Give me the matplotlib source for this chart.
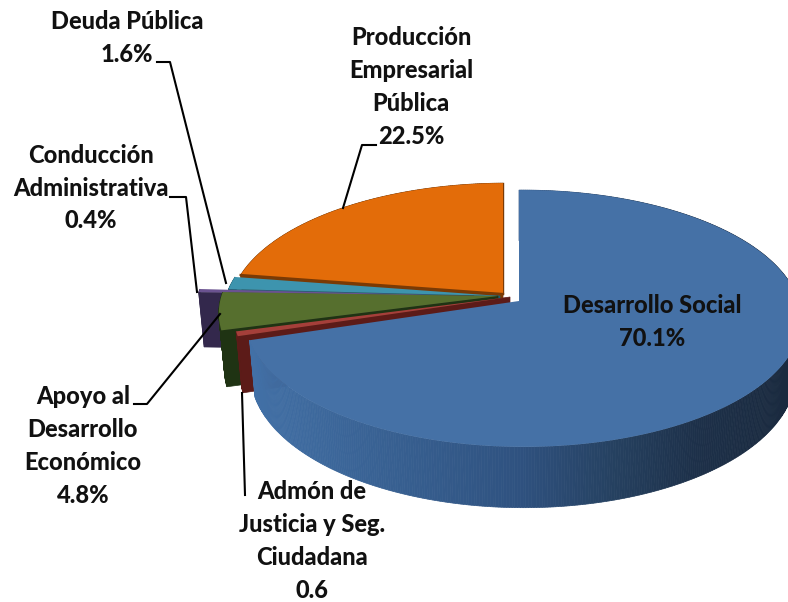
import matplotlib
matplotlib.use('Agg')
import matplotlib.pyplot as plt
from matplotlib.colors import to_rgb
from matplotlib.patches import Polygon
import numpy as np

# Slices clockwise from 12 o'clock
names = ['Desarrollo Social', 'Admón de\nJusticia y Seg.\nCiudadana', 'Apoyo al\nDesarrollo\nEconómico',
         'Conducción\nAdministrativa', 'Deuda Pública', 'Producción\nEmpresarial\nPública']
values = [70.1, 0.6, 4.8, 0.4, 1.6, 22.5]
value_labels = ['70.1%', '0.6', '4.8%', '0.4%', '1.6%', '22.5%']

top_colors = ['#4571a6', '#a53f3a', '#566f2e', '#6a5290', '#3d94ae', '#e36c09']
wall_colors = ['#35597f', '#5c1b18', '#1f3313', '#33284c', '#1f5f72', '#7a3a05']

# Apex of each exploded slice and its width factor, in pixels
apex_x = [519, 510, 498, 474, 500, 503]
apex_y = [301, 297, 296, 296, 296, 294]
width_factor = [0.99, 1.0, 1.01, 1.01, 1.0, 0.99]

# Projection of the tilted disc
RX, RY, PERSP, SKEW, DEPTH = 278, 126, 0.136, 0.015, 55


def project(deg, cx, cy, wf=1.0):
    t = np.radians(deg)
    u, v = np.sin(t), np.cos(t)
    d = 1 + PERSP * v - SKEW * u
    return cx + RX * wf * u / d, cy - RY * v / d


def lower(x, y, cx, cy):
    # bottom rim point under a top rim point
    return cx + (x - cx) * 0.98, cy + (y - cy) * 1.04 + DEPTH


def draw_slice(ax, start, end, color, wall, cx, cy, wf, wall_grad=None):
    angles = np.linspace(start, end, max(int((end - start) * 2), 2) + 1)
    xs, ys = project(angles, cx, cy, wf)
    bx, by = lower(xs, ys, cx, cy)

    # radial face on the lower edge of the slice
    ax.add_patch(Polygon([(cx, cy), (xs[0], ys[0]), (bx[0], by[0]), lower(cx, cy, cx, cy)],
                         closed=True, fc=wall, ec=wall, lw=0.5))

    # outer wall
    for i in range(len(angles) - 1):
        c = wall
        if wall_grad is not None:
            c = [np.interp(xs[i], wall_grad[0], [to_rgb(g)[k] for g in wall_grad[1]]) for k in range(3)]
        ax.add_patch(Polygon([(xs[i], ys[i]), (xs[i + 1], ys[i + 1]), (bx[i + 1], by[i + 1]), (bx[i], by[i])],
                             closed=True, fc=c, ec=c, lw=0.5))

    # top
    pts = [(cx, cy)] + list(zip(xs, ys))
    ax.add_patch(Polygon(pts, closed=True, fc=color, ec='none'))


def main():
    fig = plt.figure(figsize=(7.88, 6.02), dpi=100)
    ax = fig.add_axes([0, 0, 1, 1])
    ax.set_xlim(0, 788)
    ax.set_ylim(602, 0)
    ax.axis('off')

    edges = np.concatenate([[0], np.cumsum(values) * 3.6])
    blue_grad = ([250, 400, 520, 620, 700, 788],
                 ['#4270a6', '#375f90', '#2f5280', '#25405f', '#1d3049', '#1a2a3f'])

    # back slices first, blue last
    for i in [5, 4, 3, 2, 1, 0]:
        draw_slice(ax, edges[i], edges[i + 1], top_colors[i], wall_colors[i], apex_x[i], apex_y[i],
                   width_factor[i], blue_grad if i == 0 else None)

        if i == 5:
            # dark rim along the orange radial edges
            x0, y0 = project(edges[i], apex_x[i], apex_y[i], width_factor[i])
            x1, y1 = project(edges[i + 1], apex_x[i], apex_y[i], width_factor[i])
            ax.plot([apex_x[i], x0], [apex_y[i], y0], color=wall_colors[i], lw=1.6, zorder=1.5)
            ax.plot([apex_x[i], x1], [apex_y[i], y1], color=wall_colors[i], lw=1, zorder=0.9)

    # leader lines
    leaders = [
        ([157, 170, 226], [62, 62, 283]),
        ([170, 186, 197], [197, 197, 292]),
        ([376, 362, 343], [145, 145, 208]),
        ([134, 147, 220], [404, 404, 314]),
        ([245, 242], [495, 393]),
    ]
    for lx, ly in leaders:
        ax.plot(lx, ly, color='black', lw=1.5, zorder=5)

    # labels
    label_pos = {0: (652, 322), 1: (312, 541), 2: (83, 446), 3: (91, 188), 4: (127, 38), 5: (411, 87)}
    for i, (x, y) in label_pos.items():
        ax.text(x, y, names[i] + '\n' + value_labels[i], ha='center', va='center', color='#111111',
                family=['Lato', 'DejaVu Sans'], fontweight='black', fontsize=17, linespacing=1.52, zorder=6)

    fig.savefig('out.png', dpi=100)


if __name__ == "__main__":
    main()
